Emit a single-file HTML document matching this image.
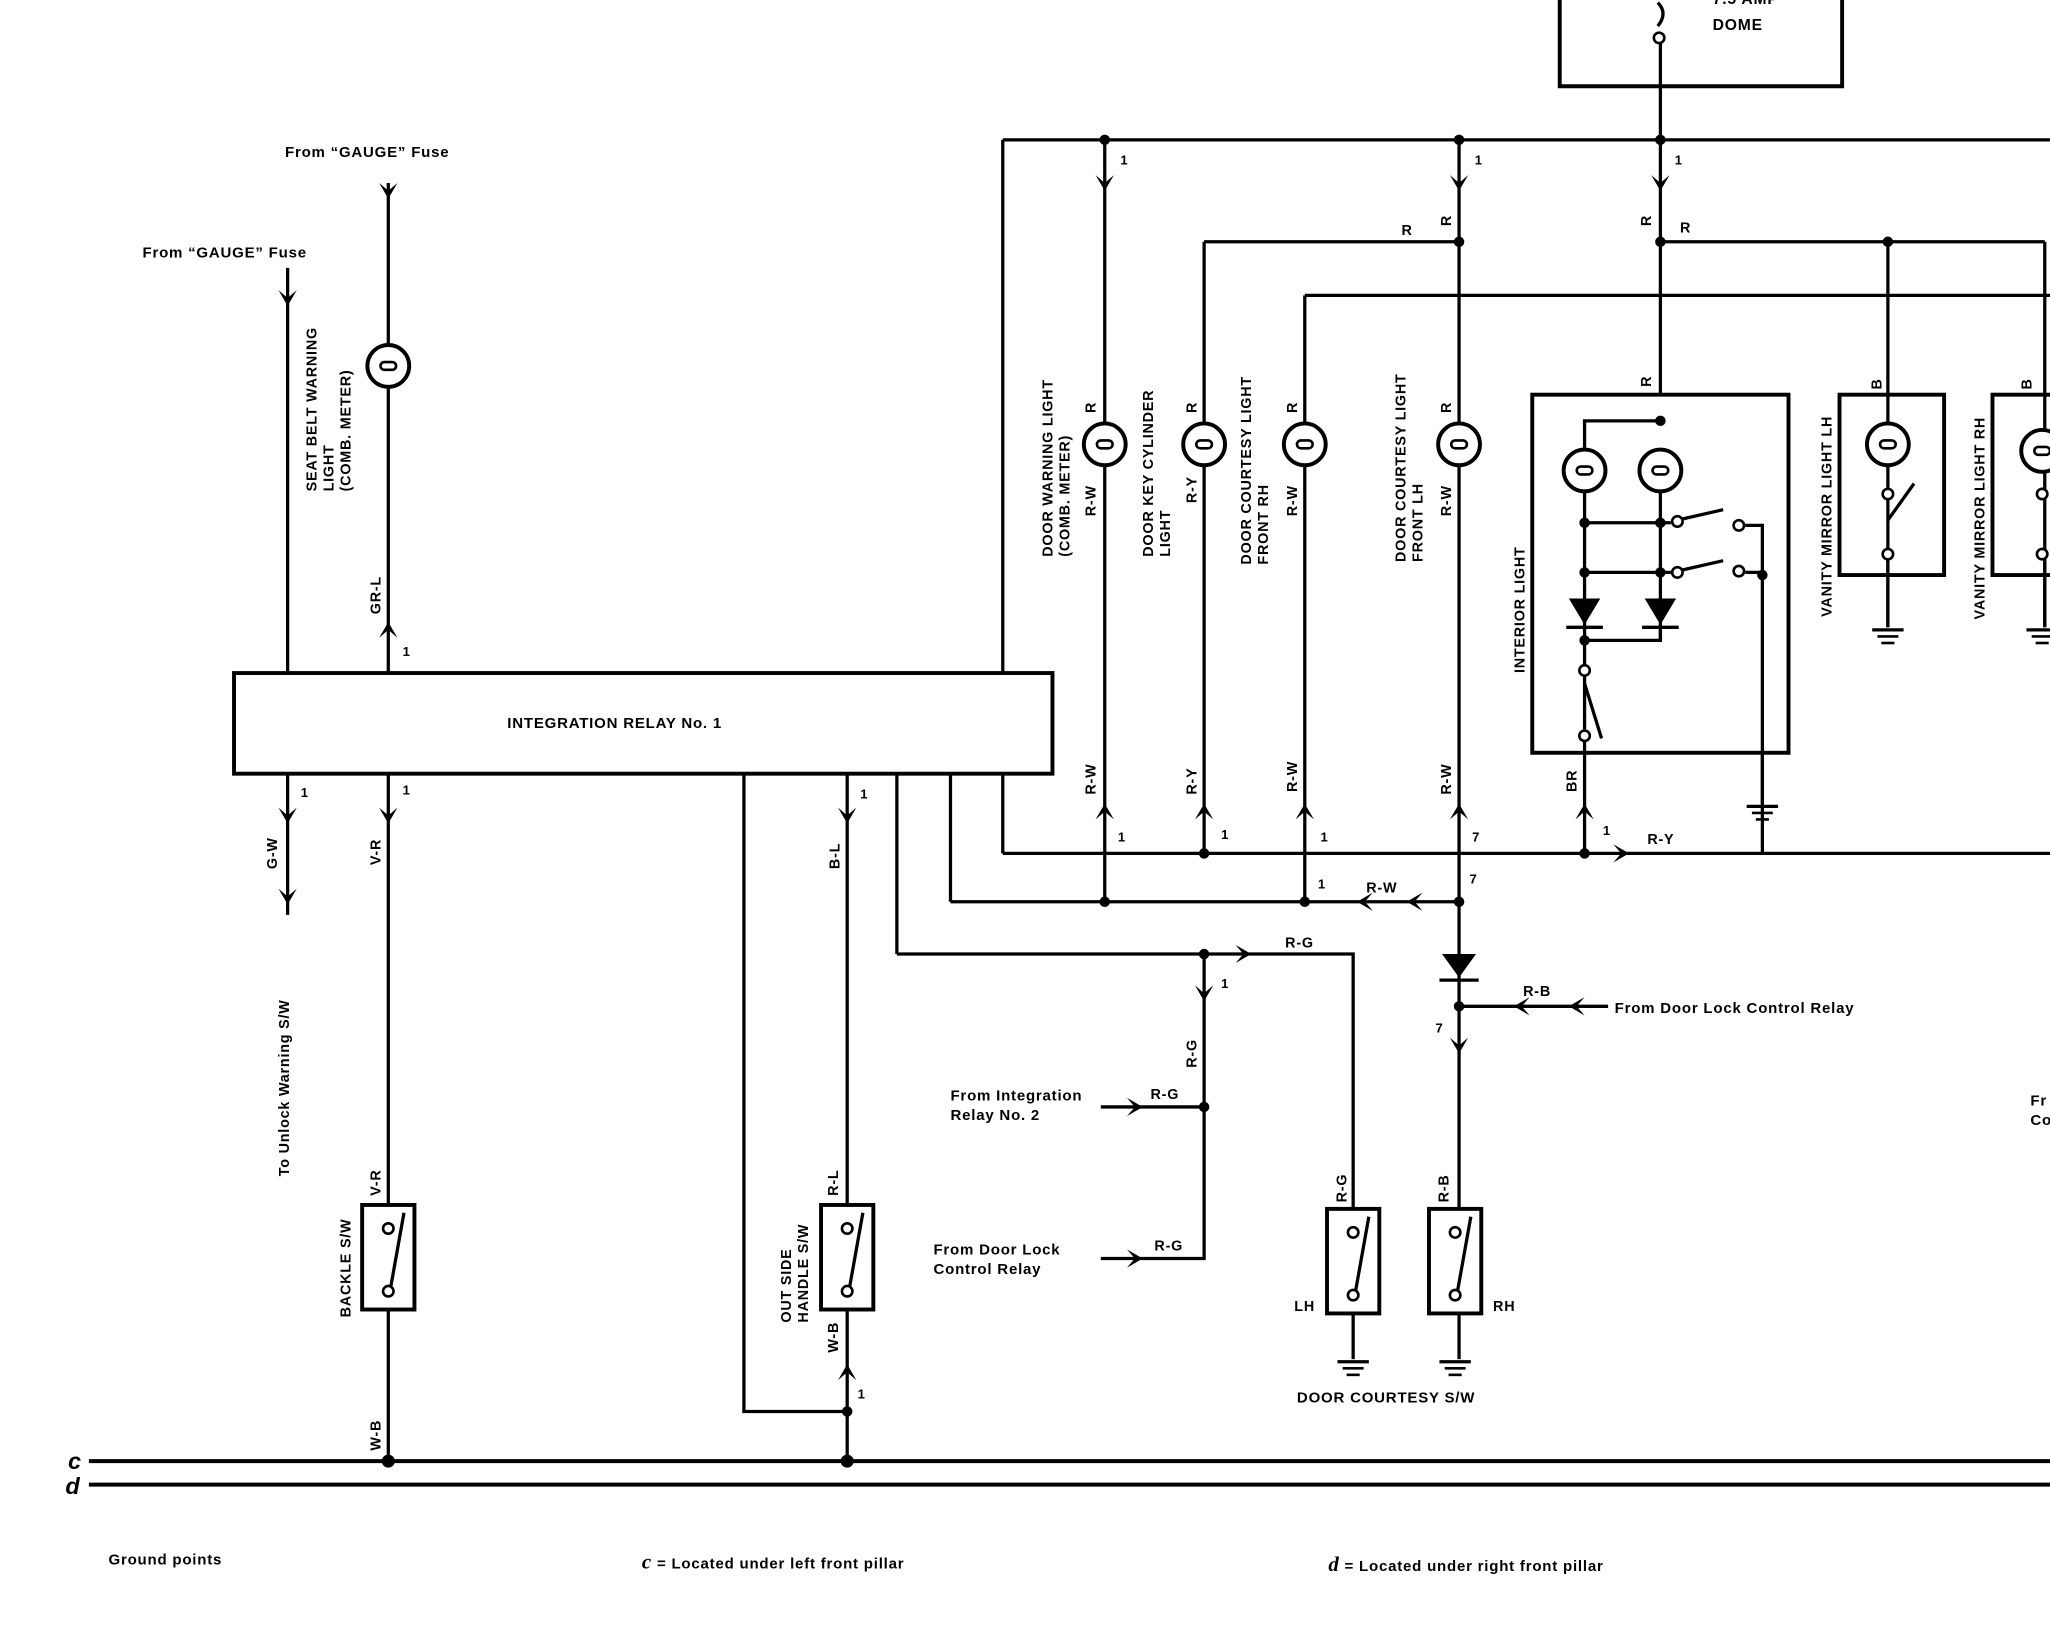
<!DOCTYPE html>
<html><head><meta charset="utf-8"><style>
html,body{margin:0;padding:0;background:#fff}
svg{display:block}
text{font-family:"Liberation Sans",sans-serif;font-weight:bold;fill:#000;letter-spacing:0.6px}
</style></head><body>
<svg width="2050" height="1648" viewBox="0 0 1568 1261" preserveAspectRatio="none" xmlns="http://www.w3.org/2000/svg">
<defs>
<g id="lamp"><circle r="16" fill="#fff" stroke="#000" stroke-width="3"/><rect x="-6" y="-3" width="12" height="6" rx="3" fill="none" stroke="#000" stroke-width="2"/></g>
<path id="ad" d="M-7 -10 L0 2 L7 -10 L0 -4 Z"/>
<path id="au" d="M-7 10 L0 -2 L7 10 L0 4 Z"/>
<path id="ar" d="M-10 -7 L2 0 L-10 7 L-4 0 Z"/>
<path id="al" d="M10 -7 L-2 0 L10 7 L4 0 Z"/>
<g id="gnd"><line x1="-12" y1="0" x2="12" y2="0" stroke="#000" stroke-width="2.5"/><line x1="-8" y1="5" x2="8" y2="5" stroke="#000" stroke-width="2"/><line x1="-5" y1="10" x2="5" y2="10" stroke="#000" stroke-width="2"/></g>
<g id="sw"><rect x="-20" y="-40" width="40" height="80" fill="#fff" stroke="#000" stroke-width="3"/><circle cx="0" cy="-22" r="4" fill="#fff" stroke="#000" stroke-width="2"/><circle cx="0" cy="26" r="4" fill="#fff" stroke="#000" stroke-width="2"/><line x1="2" y1="22" x2="12" y2="-34" stroke="#000" stroke-width="2.5"/></g>
</defs>
<g stroke="#000" stroke-width="2.5" fill="none">
<polyline points="1193,0 1193,66 1409,66 1409,0" stroke-width="3"/>
<path d="M1268 2 q8 8 0 18" />
<circle cx="1269" cy="29" r="4" stroke-width="2"/>
<line x1="1270" y1="33" x2="1270" y2="302"/>
<line x1="767" y1="107" x2="1568" y2="107"/>
<line x1="767" y1="107" x2="767" y2="515"/>
<line x1="767" y1="592" x2="767" y2="653"/>
<line x1="767" y1="653" x2="1568" y2="653"/>
<line x1="921" y1="185" x2="1116" y2="185"/>
<line x1="921" y1="185" x2="921" y2="653"/>
<line x1="1270" y1="185" x2="1564" y2="185"/>
<line x1="1564" y1="185" x2="1564" y2="480"/>
<line x1="998" y1="226" x2="1568" y2="226"/>
<line x1="998" y1="226" x2="998" y2="690"/>
<line x1="845" y1="107" x2="845" y2="690"/>
<line x1="1116" y1="107" x2="1116" y2="925"/>
<line x1="1116" y1="1005" x2="1116" y2="1040"/>
<line x1="1444" y1="185" x2="1444" y2="480"/>
<line x1="727" y1="592" x2="727" y2="690"/>
<line x1="727" y1="690" x2="1116" y2="690"/>
<line x1="686" y1="592" x2="686" y2="730"/>
<polyline points="686,730 1035,730 1035,925"/>
<line x1="1035" y1="1005" x2="1035" y2="1040"/>
<polyline points="921,730 921,963 842,963"/>
<line x1="842" y1="847" x2="921" y2="847"/>
<line x1="1116" y1="770" x2="1230" y2="770"/>
<polyline points="569,592 569,1080 648,1080"/>
<line x1="648" y1="592" x2="648" y2="1118"/>
<line x1="297" y1="140" x2="297" y2="515"/>
<line x1="297" y1="592" x2="297" y2="1118"/>
<line x1="220" y1="205" x2="220" y2="515"/>
<line x1="220" y1="592" x2="220" y2="700"/>
<line x1="68" y1="1118" x2="1568" y2="1118" stroke-width="3"/>
<line x1="68" y1="1136" x2="1568" y2="1136" stroke-width="3"/>
<rect x="179" y="515" width="626" height="77" stroke-width="3"/>
<rect x="1172" y="302" width="196" height="274" stroke-width="3"/>
<polyline points="1212,360 1212,322 1270,322"/>
<line x1="1212" y1="360" x2="1212" y2="558"/>
<line x1="1270" y1="360" x2="1270" y2="490"/>
<line x1="1212" y1="400" x2="1278" y2="400"/>
<line x1="1212" y1="438" x2="1278" y2="438"/>
<line x1="1283" y1="398" x2="1318" y2="390"/>
<line x1="1283" y1="437" x2="1318" y2="429"/>
<polyline points="1335,402 1348,402 1348,653"/>
<line x1="1335" y1="438" x2="1348" y2="438"/>
<polyline points="1212,490 1270,490 1270,478"/>
<line x1="1212" y1="523" x2="1225" y2="565"/>
<line x1="1212" y1="567" x2="1212" y2="653"/>
<line x1="1348" y1="576" x2="1348" y2="615"/>
<rect x="1407" y="302" width="80" height="138" stroke-width="3"/>
<rect x="1524" y="302" width="60" height="138" stroke-width="3"/>
<line x1="1444" y1="398" x2="1464" y2="370"/>
<line x1="1444" y1="428" x2="1444" y2="480"/>
<line x1="1564" y1="428" x2="1564" y2="480"/>
</g>
<g fill="#fff" stroke="#000" stroke-width="2">
<circle cx="1283" cy="399" r="4"/><circle cx="1330" cy="402" r="4"/>
<circle cx="1283" cy="438" r="4"/><circle cx="1330" cy="437" r="4"/>
<circle cx="1212" cy="513" r="4"/><circle cx="1212" cy="563" r="4"/>
<circle cx="1444" cy="378" r="4"/><circle cx="1444" cy="424" r="4"/>
<circle cx="1562" cy="378" r="4"/><circle cx="1562" cy="424" r="4"/>
</g>
<g>
<use href="#lamp" x="297" y="280"/><use href="#lamp" x="845" y="340"/><use href="#lamp" x="921" y="340"/>
<use href="#lamp" x="998" y="340"/><use href="#lamp" x="1116" y="340"/><use href="#lamp" x="1212" y="360"/>
<use href="#lamp" x="1270" y="360"/><use href="#lamp" x="1444" y="340"/><use href="#lamp" x="1562" y="345"/>
<use href="#sw" x="297" y="962"/><use href="#sw" x="648" y="962"/><use href="#sw" x="1035" y="965"/><use href="#sw" x="1113" y="965"/>
<use href="#gnd" x="1035" y="1042"/><use href="#gnd" x="1113" y="1042"/><use href="#gnd" x="1348" y="617"/><use href="#gnd" x="1444" y="482"/><use href="#gnd" x="1562" y="482"/>
<path d="M1200 458 L1224 458 L1212 478 Z"/><line x1="1198" y1="480" x2="1226" y2="480" stroke="#000" stroke-width="2.5"/>
<path d="M1258 458 L1282 458 L1270 478 Z"/><line x1="1256" y1="480" x2="1284" y2="480" stroke="#000" stroke-width="2.5"/>
<path d="M1103 730 L1129 730 L1116 748 Z"/><line x1="1101" y1="750" x2="1131" y2="750" stroke="#000" stroke-width="2.5"/>
<g>
<circle cx="845" cy="107" r="4"/><circle cx="1116" cy="107" r="4"/><circle cx="1270" cy="107" r="4"/>
<circle cx="1116" cy="185" r="4"/><circle cx="1270" cy="185" r="4"/><circle cx="1444" cy="185" r="4"/>
<circle cx="1270" cy="322" r="4"/><circle cx="1212" cy="400" r="4"/><circle cx="1270" cy="400" r="4"/>
<circle cx="1212" cy="438" r="4"/><circle cx="1270" cy="438" r="4"/><circle cx="1348" cy="440" r="4"/><circle cx="1212" cy="490" r="4"/>
<circle cx="921" cy="653" r="4"/><circle cx="1212" cy="653" r="4"/>
<circle cx="845" cy="690" r="4"/><circle cx="998" cy="690" r="4"/><circle cx="1116" cy="690" r="4"/>
<circle cx="921" cy="730" r="4"/><circle cx="921" cy="847" r="4"/><circle cx="1116" cy="770" r="4"/>
<circle cx="648" cy="1080" r="4"/><circle cx="297" cy="1118" r="5"/><circle cx="648" cy="1118" r="5"/>
</g>
<use href="#ad" x="845" y="144"/><use href="#ad" x="1116" y="144"/><use href="#ad" x="1270" y="144"/>
<use href="#ad" x="297" y="150"/><use href="#ad" x="220" y="232"/><use href="#au" x="297" y="478"/>
<use href="#ad" x="220" y="628"/><use href="#ad" x="297" y="628"/><use href="#ad" x="648" y="628"/><use href="#ad" x="220" y="690"/>
<use href="#au" x="845" y="617"/><use href="#au" x="921" y="617"/><use href="#au" x="998" y="617"/><use href="#au" x="1116" y="617"/><use href="#au" x="1212" y="617"/>
<use href="#ar" x="1244" y="653"/><use href="#al" x="1040" y="690"/><use href="#al" x="1078" y="690"/>
<use href="#ar" x="955" y="730"/><use href="#ad" x="921" y="764"/><use href="#ad" x="1116" y="804"/>
<use href="#ar" x="872" y="847"/><use href="#ar" x="872" y="963"/><use href="#al" x="1160" y="770"/><use href="#al" x="1202" y="770"/>
<use href="#au" x="648" y="1046"/>
</g>
<g font-size="12">
<text x="1310" y="3">7.5 AMP</text><text x="1310" y="23">DOME</text>
<text x="218" y="120" font-size="11.5">From “GAUGE” Fuse</text>
<text x="109" y="197" font-size="11.5">From “GAUGE” Fuse</text>
<text x="388" y="557" font-size="11.5">INTEGRATION RELAY No. 1</text>
<text x="1235" y="775" font-size="11.5">From Door Lock Control Relay</text>
<text x="727" y="842" font-size="11.5">From Integration</text><text x="727" y="857" font-size="11.5">Relay No. 2</text>
<text x="714" y="960" font-size="11.5">From Door Lock</text><text x="714" y="975" font-size="11.5">Control Relay</text>
<text x="992" y="1073" font-size="11.5">DOOR COURTESY S/W</text>
<text x="990" y="1003" font-size="11">LH</text><text x="1142" y="1003" font-size="11">RH</text>
<text x="83" y="1197" font-size="11.5" font-weight="normal">Ground points</text>
<text x="491" y="1200" font-size="11.5" font-weight="normal"><tspan font-family="Liberation Serif" font-style="italic" font-size="16">c</tspan> = Located under left front pillar</text>
<text x="1016" y="1202" font-size="11.5" font-weight="normal"><tspan font-family="Liberation Serif" font-style="italic" font-size="16">d</tspan> = Located under right front pillar</text>
<text x="52" y="1124" font-family="Liberation Serif" font-style="italic" font-size="18" font-weight="normal">c</text>
<text x="50" y="1143" font-family="Liberation Serif" font-style="italic" font-size="18" font-weight="normal">d</text>
<text x="1553" y="846" font-size="11.5" font-weight="normal">Fr</text><text x="1553" y="861" font-size="11.5" font-weight="normal">Co</text>
<text font-size="11" x="1072" y="180">R</text><text font-size="11" x="1285" y="178">R</text>
<text font-size="11" x="1045" y="683">R-W</text><text font-size="11" x="983" y="725">R-G</text><text font-size="11" x="1260" y="646">R-Y</text>
<text font-size="11" x="1165" y="762">R-B</text><text font-size="11" x="880" y="841">R-G</text><text font-size="11" x="883" y="957">R-G</text>
<text font-size="10" x="857" y="126">1</text><text font-size="10" x="1128" y="126">1</text><text font-size="10" x="1281" y="126">1</text>
<text font-size="10" x="308" y="502">1</text><text font-size="10" x="230" y="610">1</text><text font-size="10" x="308" y="608">1</text><text font-size="10" x="658" y="611">1</text>
<text font-size="10" x="855" y="644">1</text><text font-size="10" x="934" y="642">1</text><text font-size="10" x="1010" y="644">1</text><text font-size="10" x="1126" y="644">7</text><text font-size="10" x="1226" y="639">1</text>
<text font-size="10" x="1008" y="680">1</text><text font-size="10" x="1124" y="676">7</text><text font-size="10" x="934" y="756">1</text><text font-size="10" x="1098" y="790">7</text><text font-size="10" x="656" y="1070">1</text>
</g>
<g font-size="11">
<text transform="translate(242,376) rotate(-90)">SEAT BELT WARNING</text>
<text transform="translate(255,376) rotate(-90)">LIGHT</text>
<text transform="translate(268,376) rotate(-90)">(COMB. METER)</text>
<text transform="translate(291,470) rotate(-90)">GR-L</text>
<text transform="translate(212,665) rotate(-90)">G-W</text><text transform="translate(291,662) rotate(-90)">V-R</text>
<text transform="translate(642,665) rotate(-90)">B-L</text>
<text transform="translate(221,900) rotate(-90)" font-weight="normal">To Unlock Warning S/W</text>
<text transform="translate(268,1008) rotate(-90)">BACKLE S/W</text>
<text transform="translate(291,915) rotate(-90)">V-R</text><text transform="translate(291,1110) rotate(-90)">W-B</text>
<text transform="translate(605,1012) rotate(-90)">OUT SIDE</text><text transform="translate(618,1012) rotate(-90)">HANDLE S/W</text>
<text transform="translate(641,915) rotate(-90)">R-L</text><text transform="translate(641,1035) rotate(-90)">W-B</text>
<text transform="translate(805,426) rotate(-90)">DOOR WARNING LIGHT</text><text transform="translate(818,426) rotate(-90)">(COMB. METER)</text>
<text transform="translate(882,426) rotate(-90)">DOOR KEY CYLINDER</text><text transform="translate(895,426) rotate(-90)">LIGHT</text>
<text transform="translate(957,432) rotate(-90)">DOOR COURTESY LIGHT</text><text transform="translate(970,432) rotate(-90)">FRONT RH</text>
<text transform="translate(1075,430) rotate(-90)">DOOR COURTESY LIGHT</text><text transform="translate(1088,430) rotate(-90)">FRONT LH</text>
<text transform="translate(838,316) rotate(-90)">R</text><text transform="translate(838,395) rotate(-90)">R-W</text>
<text transform="translate(915,316) rotate(-90)">R</text><text transform="translate(915,385) rotate(-90)">R-Y</text>
<text transform="translate(992,316) rotate(-90)">R</text><text transform="translate(992,395) rotate(-90)">R-W</text>
<text transform="translate(1110,316) rotate(-90)">R</text><text transform="translate(1110,395) rotate(-90)">R-W</text>
<text transform="translate(1110,173) rotate(-90)">R</text><text transform="translate(1263,173) rotate(-90)">R</text>
<text transform="translate(1263,296) rotate(-90)">R</text>
<text transform="translate(838,608) rotate(-90)">R-W</text><text transform="translate(915,608) rotate(-90)">R-Y</text>
<text transform="translate(992,606) rotate(-90)">R-W</text><text transform="translate(1110,608) rotate(-90)">R-W</text>
<text transform="translate(1206,606) rotate(-90)">BR</text>
<text transform="translate(915,817) rotate(-90)">R-G</text>
<text transform="translate(1030,920) rotate(-90)">R-G</text><text transform="translate(1108,920) rotate(-90)">R-B</text>
<text transform="translate(1166,515) rotate(-90)">INTERIOR LIGHT</text>
<text transform="translate(1401,472) rotate(-90)">VANITY MIRROR LIGHT LH</text>
<text transform="translate(1518,474) rotate(-90)">VANITY MIRROR LIGHT RH</text>
<text transform="translate(1439,298) rotate(-90)">B</text><text transform="translate(1554,298) rotate(-90)">B</text>
</g>
</svg>
</body></html>
